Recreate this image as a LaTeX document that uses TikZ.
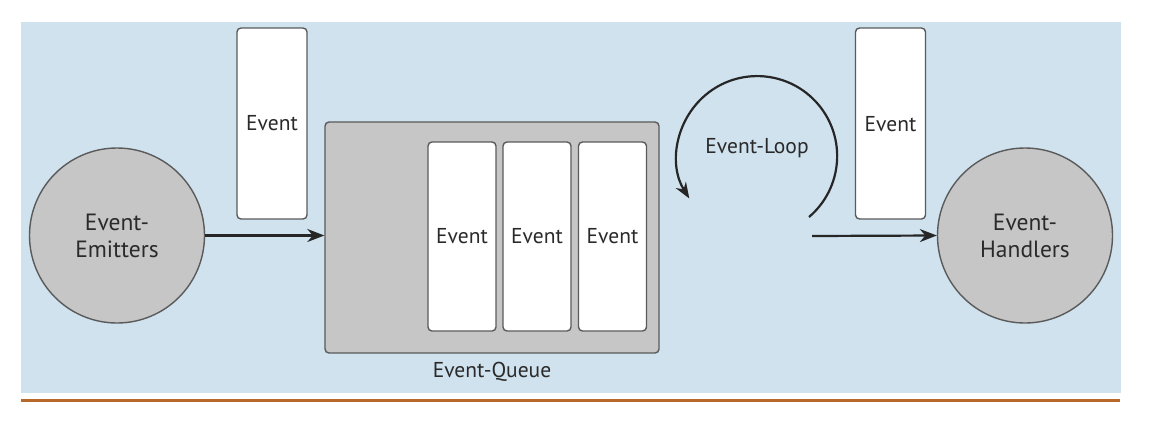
\documentclass[tikz,border=0pt]{standalone}
\usepackage{fontspec}
\setmainfont{PT Sans}
\usetikzlibrary{arrows.meta}
\definecolor{bgblue}{HTML}{CFE2EE}
\definecolor{boxgray}{HTML}{C6C6C6}
\definecolor{linegray}{HTML}{5A5A5A}
\definecolor{txt}{HTML}{2A2A2A}
\definecolor{rule}{HTML}{B8692A}
\tikzset{
  ev/.style={draw=linegray, line width=1.4pt, fill=white, rounded corners=4pt, minimum width=70pt, minimum height=191pt, inner sep=0pt},
  qev/.style={draw=linegray, line width=1.4pt, fill=white, rounded corners=4pt, minimum width=68pt, minimum height=189pt, inner sep=0pt, text=txt, font=\fontsize{21.5}{24}\selectfont},
  actor/.style={circle, draw=linegray, line width=1.4pt, fill=boxgray, minimum size=175pt, inner sep=0pt, align=center, text=txt, font=\fontsize{23.5}{27}\selectfont},
  conn/.style={line width=2.2pt, draw=black!85, -{Stealth[length=17pt,width=13pt]}},
  lbl/.style={font=\fontsize{21.5}{24}\selectfont, text=txt, inner sep=0pt}
}
\begin{document}
\begin{tikzpicture}[x=1pt,y=-1pt]
\useasboundingbox (0,0) rectangle (1150,426);
\fill[white] (0,0) rectangle (1150,426);
\fill[bgblue] (21,22) rectangle (1121,393);
\fill[rule] (21,398.5) rectangle (1120,401.5);
% actors
\node[actor] (em) at (117,235.5) {Event-\\Emitters};
\node[actor] (ha) at (1025,235.5) {Event-\\Handlers};
% event boxes outside
\node[ev] (e1) at (272,123.5) {};
\node[lbl] at (272,123) {Event};
\node[ev] (e2) at (890.5,123.5) {};
\node[lbl] at (890.5,124) {Event};
% queue
\node[draw=linegray, line width=1.4pt, fill=boxgray, rounded corners=4pt, minimum width=334pt, minimum height=231pt, inner sep=0pt] (q) at (492,237.5) {};
\node[qev] (q1) at (462,236.5) {Event};
\node[qev] (q2) at (537,236.5) {Event};
\node[qev] (q3) at (612.5,236.5) {Event};
\node[lbl] (ql) at (492,372) {Event-Queue};
% event loop
\node[lbl] (loop) at (757,148) {Event-Loop};
\coordinate (ls) at (809,217);
\draw[line width=2.2pt, draw=black!85, -{Stealth[length=16pt,width=12pt]}] (ls) arc[start angle=49.6, end angle=-212, radius=80];
% connectors
\draw[conn] (em.east) -- (q.west |- em.east);
\coordinate (ls2) at (812,236);
\draw[conn] (ls2) -- (ha.west);
\end{tikzpicture}
\end{document}
